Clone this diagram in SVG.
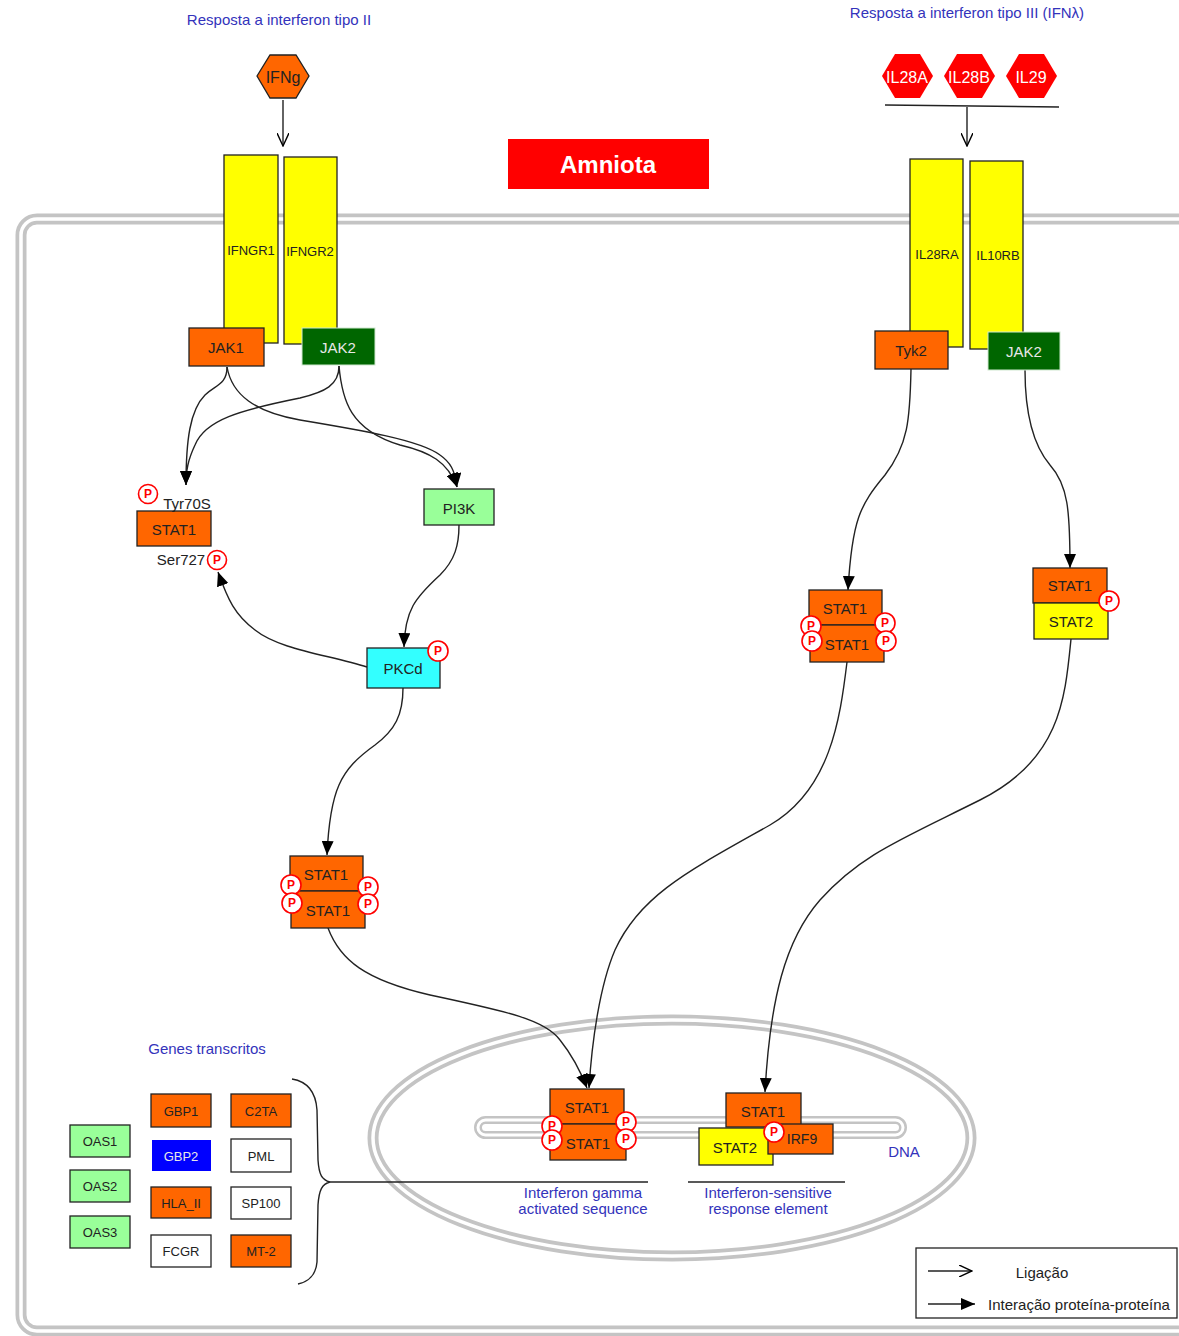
<svg xmlns="http://www.w3.org/2000/svg" width="1179" height="1336" viewBox="0 0 1179 1336">
<defs>
<style>
text{font-family:"Liberation Sans",Arial,sans-serif;}
.t{font-size:15px;fill:#222;text-anchor:middle;dominant-baseline:central;}
.tw{font-size:15px;fill:#e8e8e8;text-anchor:middle;dominant-baseline:central;}
.ts{font-size:13px;fill:#222;text-anchor:middle;dominant-baseline:central;}
.blue{font-size:15px;fill:#3333bb;text-anchor:middle;}
.or{fill:#ff6600;stroke:#222;stroke-width:1.3;}
.ye{fill:#ffff00;stroke:#222;stroke-width:1.3;}
.gr{fill:#006600;stroke:#cfe8cf;stroke-width:1;}
.lg{fill:#99ff99;stroke:#222;stroke-width:1.3;}
.wh{fill:#ffffff;stroke:#222;stroke-width:1.3;}
.cy{fill:#33ffff;stroke:#222;stroke-width:1.3;}
.edge{fill:none;stroke:#222;stroke-width:1.4;}
.mem1{fill:none;stroke:#c4c4c4;stroke-width:11;}
.mem2{fill:none;stroke:#ffffff;stroke-width:3.5;}
.pc{fill:#fff;stroke:#ff0000;stroke-width:1.6;}
.pt{font-size:12px;font-weight:bold;fill:#ff0000;text-anchor:middle;dominant-baseline:central;}
.hx{font-size:16px;fill:#fff;text-anchor:middle;dominant-baseline:central;}
</style>
<marker id="fa" viewBox="0 0 14 12" refX="14" refY="6" markerWidth="14" markerHeight="12" markerUnits="userSpaceOnUse" orient="auto">
<path d="M0,0 L14,6 L0,12 Z" fill="#000"/>
</marker>
<marker id="oa" viewBox="0 0 14 12" refX="13" refY="6" markerWidth="14" markerHeight="12" markerUnits="userSpaceOnUse" orient="auto">
<path d="M0,0 L13,6 L0,12" fill="none" stroke="#000" stroke-width="1.4"/>
</marker>
</defs>
<rect width="1179" height="1336" fill="#fff"/>

<!-- cell membrane -->
<g id="membrane">
<rect x="21" y="219" width="1200" height="1112" rx="16" class="mem1"/>
<rect x="21" y="219" width="1200" height="1112" rx="16" class="mem2"/>
</g>
<!-- nucleus -->
<g id="nucleus">
<ellipse cx="672" cy="1138" rx="299" ry="118" class="mem1"/>
<ellipse cx="672" cy="1138" rx="299" ry="118" class="mem2"/>
</g>
<!-- DNA -->
<g id="dna">
<rect x="478" y="1120" width="425" height="15" rx="7.5" style="fill:none;stroke:#c4c4c4;stroke-width:8"/>
<rect x="478" y="1120" width="425" height="15" rx="7.5" style="fill:none;stroke:#fff;stroke-width:3"/>
<text x="904" y="1151" class="blue" dominant-baseline="central">DNA</text>
</g>

<text x="279" y="25" class="blue">Resposta a interferon tipo II</text>
<text x="967" y="18" class="blue">Resposta a interferon tipo III (IFNλ)</text>

<g id="amniota">
<rect x="508" y="139" width="201" height="50" fill="#ff0000"/>
<text x="608" y="164" style="font-size:24px;font-weight:bold;fill:#fff;text-anchor:middle;dominant-baseline:central">Amniota</text>
</g>

<!-- connectors -->
<g id="connectors">
<path class="edge" d="M283,100 L283,146" marker-end="url(#oa)"/>
<path class="edge" d="M885,105 L1059,107"/>
<path class="edge" d="M967,107 L967,146" marker-end="url(#oa)"/>
<path class="edge" d="M227,367 C227,385 215,385 205,395 C190,410 186,440 186,485" marker-end="url(#fa)"/>
<path class="edge" d="M339,366 C339,385 325,392 300,398 C240,410 205,420 195,445 C188,460 186,470 186,485" marker-end="url(#fa)"/>
<path class="edge" d="M227,367 C232,395 255,412 300,420 C360,430 420,440 440,455 C450,462 455,470 457,487" marker-end="url(#fa)"/>
<path class="edge" d="M339,366 C342,400 350,430 400,445 C430,452 448,462 457,487" marker-end="url(#fa)"/>
<path class="edge" d="M459,525 C459,545 455,560 440,575 C415,598 405,610 404,647" marker-end="url(#fa)"/>
<path class="edge" d="M367,667 C330,655 280,650 255,630 C235,615 228,600 218,572" marker-end="url(#fa)"/>
<path class="edge" d="M403,688 C403,715 395,730 375,745 C340,770 330,790 327,855" marker-end="url(#fa)"/>
<path class="edge" d="M328,928 C340,960 365,980 430,995 C510,1012 545,1020 560,1040 C572,1055 580,1070 587,1088" marker-end="url(#fa)"/>
<path class="edge" d="M911,369 C910,420 908,445 885,475 C860,505 852,520 848,590" marker-end="url(#fa)"/>
<path class="edge" d="M1025,370 C1025,415 1033,445 1050,465 C1068,485 1070,510 1070,568" marker-end="url(#fa)"/>
<path class="edge" d="M847,662 C840,720 830,790 770,825 C690,870 640,895 615,950 C600,985 592,1040 589,1088" marker-end="url(#fa)"/>
<path class="edge" d="M1071,639 C1065,700 1060,760 980,800 C900,840 860,855 820,900 C785,940 770,1000 765,1092" marker-end="url(#fa)"/>
<path class="edge" d="M330,1182 L648,1182"/>
<path class="edge" d="M688,1182 L845,1182"/>
<path class="edge" d="M292,1079 C310,1082 316,1095 317,1110 L318,1160 C319,1175 322,1180 330,1182 C322,1184 319,1190 318,1205 L317,1262 C316,1275 308,1282 298,1284"/>
</g>

<!-- ligands -->
<g id="IFNg">
<polygon points="257,76 270,55 296,55 309,76 296,98 270,98" class="or"/>
<text x="283" y="77" class="t" style="font-size:16px">IFNg</text>
</g>
<g id="IL28A">
<polygon points="882,76 895,54 920,54 933,76 920,98 895,98" fill="#ff0000"/>
<text x="907" y="77" class="hx">IL28A</text>
</g>
<g id="IL28B">
<polygon points="944,76 957,54 982,54 995,76 982,98 957,98" fill="#ff0000"/>
<text x="969" y="77" class="hx">IL28B</text>
</g>
<g id="IL29">
<polygon points="1006,76 1019,54 1044,54 1057,76 1044,98 1019,98" fill="#ff0000"/>
<text x="1031" y="77" class="hx">IL29</text>
</g>

<!-- receptors -->
<g id="IFNGR1"><rect x="224" y="155" width="54" height="188" class="ye"/><text x="251" y="250" class="ts">IFNGR1</text></g>
<g id="IFNGR2"><rect x="284" y="157" width="53" height="187" class="ye"/><text x="310" y="251" class="ts">IFNGR2</text></g>
<g id="IL28RA"><rect x="910" y="159" width="53" height="188" class="ye"/><text x="937" y="254" class="ts">IL28RA</text></g>
<g id="IL10RB"><rect x="970" y="161" width="53" height="188" class="ye"/><text x="998" y="255" class="ts">IL10RB</text></g>

<g id="JAK1"><rect x="189" y="328" width="75" height="38" class="or"/><text x="226" y="347" class="t">JAK1</text></g>
<g id="JAK2a"><rect x="302" y="328" width="73" height="37" class="gr"/><text x="338" y="347" class="tw">JAK2</text></g>
<g id="Tyk2"><rect x="875" y="331" width="73" height="38" class="or"/><text x="911" y="350" class="t">Tyk2</text></g>
<g id="JAK2b"><rect x="988" y="332" width="72" height="38" class="gr"/><text x="1024" y="351" class="tw">JAK2</text></g>

<!-- STAT1 left -->
<g id="STAT1a">
<rect x="137" y="511" width="74" height="35" class="or"/><text x="174" y="529" class="t">STAT1</text>
<text x="187" y="503" class="t">Tyr70S</text>
<circle cx="148" cy="494" r="9.5" class="pc"/><text x="148" y="494" class="pt">P</text>
<text x="181" y="559" class="t">Ser727</text>
<circle cx="217" cy="560" r="9.5" class="pc"/><text x="217" y="560" class="pt">P</text>
</g>

<g id="PI3K"><rect x="424" y="489" width="70" height="36" class="lg"/><text x="459" y="508" class="t">PI3K</text></g>
<g id="PKCd"><rect x="367" y="648" width="73" height="40" class="cy"/><text x="403" y="668" class="t">PKCd</text>
<circle cx="438" cy="651" r="10" class="pc"/><text x="438" y="651" class="pt">P</text></g>

<!-- left dimer -->
<g id="STAT1dimerA">
<rect x="290" y="856" width="73" height="35" class="or"/><text x="326" y="874" class="t">STAT1</text>
<rect x="291" y="891" width="74" height="37" class="or"/><text x="328" y="910" class="t">STAT1</text>
<circle cx="291" cy="885" r="10" class="pc"/><text x="291" y="885" class="pt">P</text>
<circle cx="292" cy="903" r="10" class="pc"/><text x="292" y="903" class="pt">P</text>
<circle cx="368" cy="887" r="10" class="pc"/><text x="368" y="887" class="pt">P</text>
<circle cx="368" cy="904" r="10" class="pc"/><text x="368" y="904" class="pt">P</text>
</g>

<!-- right dimer -->
<g id="STAT1dimerB">
<rect x="809" y="590" width="73" height="35" class="or"/><text x="845" y="608" class="t">STAT1</text>
<rect x="810" y="625" width="74" height="37" class="or"/><text x="847" y="644" class="t">STAT1</text>
<circle cx="811" cy="626" r="10" class="pc"/><text x="811" y="626" class="pt">P</text>
<circle cx="812" cy="641" r="10" class="pc"/><text x="812" y="641" class="pt">P</text>
<circle cx="885" cy="623" r="10" class="pc"/><text x="885" y="623" class="pt">P</text>
<circle cx="886" cy="641" r="10" class="pc"/><text x="886" y="641" class="pt">P</text>
</g>

<g id="STAT1STAT2">
<rect x="1033" y="568" width="74" height="35" class="or"/><text x="1070" y="585" class="t">STAT1</text>
<rect x="1034" y="603" width="74" height="36" class="ye"/><text x="1071" y="621" class="t">STAT2</text>
<circle cx="1109" cy="601" r="10" class="pc"/><text x="1109" y="601" class="pt">P</text>
</g>

<!-- nuclear GAS dimer -->
<g id="GASdimer">
<rect x="550" y="1089" width="74" height="35" class="or"/><text x="587" y="1107" class="t">STAT1</text>
<rect x="550" y="1124" width="76" height="36" class="or"/><text x="588" y="1143" class="t">STAT1</text>
<circle cx="552" cy="1126" r="10" class="pc"/><text x="552" y="1126" class="pt">P</text>
<circle cx="552" cy="1140" r="10" class="pc"/><text x="552" y="1140" class="pt">P</text>
<circle cx="626" cy="1122" r="10" class="pc"/><text x="626" y="1122" class="pt">P</text>
<circle cx="626" cy="1139" r="10" class="pc"/><text x="626" y="1139" class="pt">P</text>
</g>

<g id="ISGF3">
<rect x="726" y="1093" width="75" height="34" class="or"/><text x="763" y="1111" class="t">STAT1</text>
<rect x="699" y="1128" width="74" height="37" class="ye"/><text x="735" y="1147" class="t">STAT2</text>
<rect x="768" y="1124" width="65" height="30" class="or"/><text x="802" y="1139" class="t" style="font-size:14px">IRF9</text>
<circle cx="774" cy="1132" r="10" class="pc"/><text x="774" y="1132" class="pt">P</text>
</g>

<text x="583" y="1198" class="blue">Interferon gamma</text>
<text x="583" y="1214" class="blue">activated sequence</text>
<text x="768" y="1198" class="blue">Interferon-sensitive</text>
<text x="768" y="1214" class="blue">response element</text>

<!-- genes -->
<text x="207" y="1054" class="blue">Genes transcritos</text>
<g id="OAS1"><rect x="70" y="1125" width="60" height="32" class="lg"/><text x="100" y="1141" class="ts">OAS1</text></g>
<g id="OAS2"><rect x="70" y="1170" width="60" height="32" class="lg"/><text x="100" y="1186" class="ts">OAS2</text></g>
<g id="OAS3"><rect x="70" y="1216" width="60" height="32" class="lg"/><text x="100" y="1232" class="ts">OAS3</text></g>
<g id="GBP1"><rect x="151" y="1094" width="60" height="33" class="or"/><text x="181" y="1111" class="ts">GBP1</text></g>
<g id="GBP2"><rect x="152" y="1140" width="59" height="31" fill="#0000ff"/><text x="181" y="1156" class="tw" style="font-size:13px">GBP2</text></g>
<g id="HLA_II"><rect x="151" y="1187" width="60" height="31" class="or"/><text x="181" y="1203" class="ts">HLA_II</text></g>
<g id="FCGR"><rect x="151" y="1235" width="60" height="32" class="wh"/><text x="181" y="1251" class="ts">FCGR</text></g>
<g id="C2TA"><rect x="231" y="1094" width="60" height="33" class="or"/><text x="261" y="1111" class="ts">C2TA</text></g>
<g id="PML"><rect x="231" y="1139" width="60" height="33" class="wh"/><text x="261" y="1156" class="ts">PML</text></g>
<g id="SP100"><rect x="231" y="1187" width="60" height="32" class="wh"/><text x="261" y="1203" class="ts">SP100</text></g>
<g id="MT-2"><rect x="231" y="1235" width="60" height="32" class="or"/><text x="261" y="1251" class="ts">MT-2</text></g>

<!-- legend -->
<g id="legend">
<rect x="916" y="1248" width="261" height="70" fill="#fff" stroke="#222" stroke-width="1.3"/>
<path class="edge" d="M928,1271 L972,1271" marker-end="url(#oa)"/>
<text x="1042" y="1272" class="ts" style="font-size:15px">Ligação</text>
<path class="edge" d="M928,1304 L975,1304" marker-end="url(#fa)"/>
<text x="1079" y="1304" class="ts" style="font-size:15px">Interação proteína-proteína</text>
</g>
</svg>
